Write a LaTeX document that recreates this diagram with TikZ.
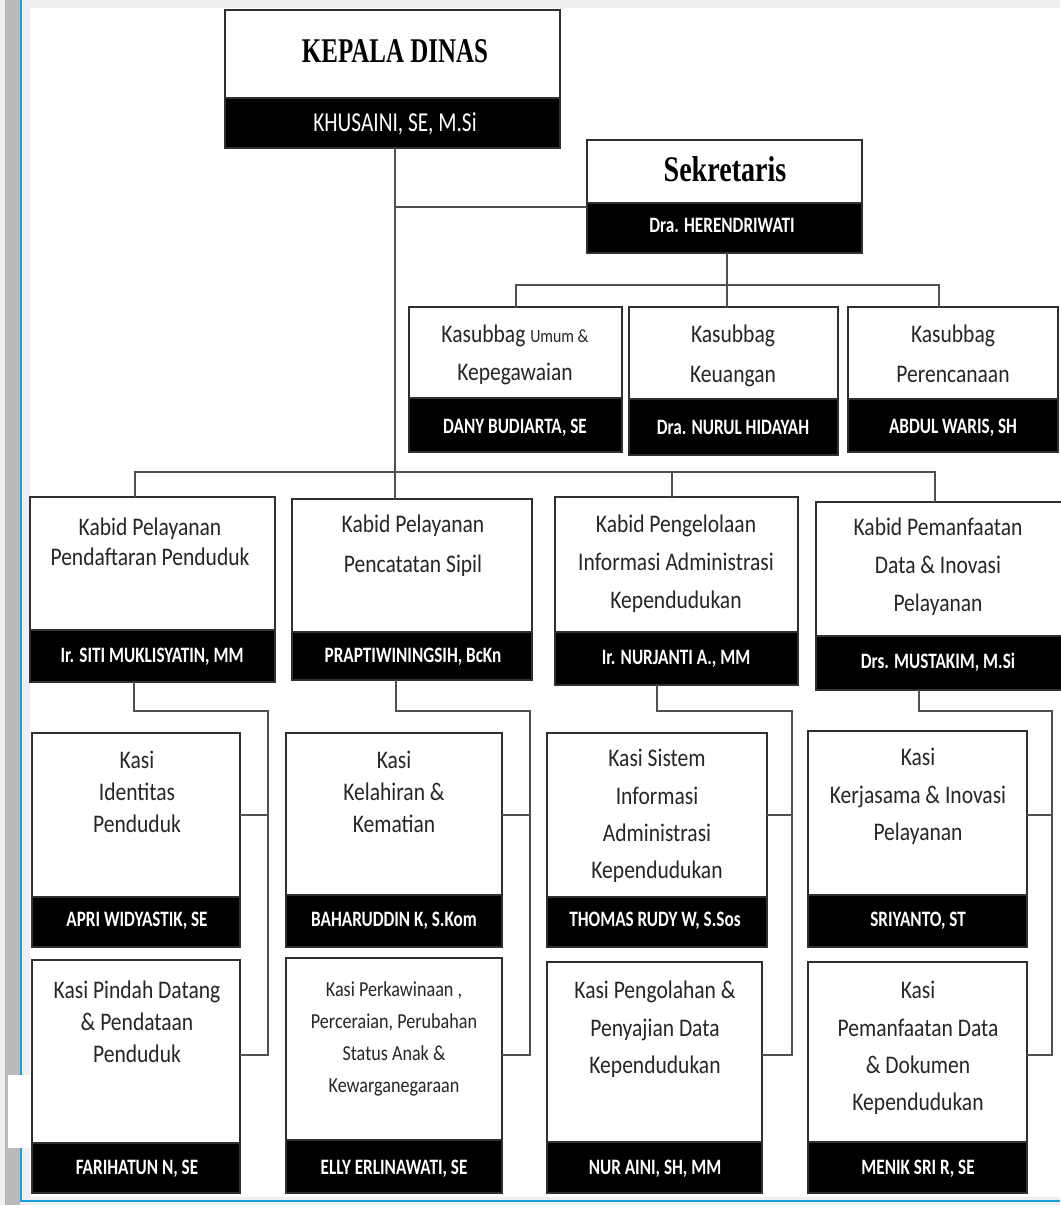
\documentclass[tikz,border=0pt]{standalone}
\usepackage{fontspec}
\setmainfont{Carlito}
\newfontfamily\bodyf[FakeStretch=0.85]{Carlito}
\newfontfamily\namef[FakeStretch=0.78]{Carlito}
\newfontfamily\headf[FakeStretch=0.72]{Liberation Serif}
\newfontfamily\sekf[FakeStretch=0.78]{Liberation Serif}
\newcommand\tsz[2]{\fontsize{#1}{#2}\selectfont}
\definecolor{bgc}{HTML}{EFEFEF}
\definecolor{barc}{HTML}{BABABA}
\definecolor{frameblue}{HTML}{1BA1E2}
\definecolor{lnc}{HTML}{505050}
\definecolor{bord}{HTML}{303030}
\tikzset{
  wbox/.style={draw=bord, line width=1.5pt, fill=white, inner sep=0pt, outer sep=0pt},
  bbox/.style={draw=bord, line width=1.5pt, fill=black, inner sep=0pt, outer sep=0pt},
  ttxt/.style={align=center, inner sep=0pt, anchor=north, text=black!85},
  ntxt/.style={inner sep=0pt, anchor=base, text=white, font={\namef\bfseries\tsz{16.5}{20}}},
  conn/.style={draw=lnc, line width=1.5pt},
}
\newcommand\orgbox[6]{%
  \node[wbox, minimum width={(#3-#2)*0.75pt}, minimum height={(#5-#4)*0.75pt}]
    (#1) at ({(#2+#3)/2},{(#4+#5)/2}) {};
  \node[bbox, minimum width={(#3-#2)*0.75pt}, minimum height={(#6-#5)*0.75pt}]
    (#1n) at ({(#2+#3)/2},{(#5+#6)/2}) {};}
\begin{document}
\begin{tikzpicture}[x=0.75pt,y=-0.75pt]
\useasboundingbox (0,0) rectangle (1060,1205);
% frame of the screenshot
\fill[bgc] (0,0) rectangle (1060,1205);
\fill[white] (30,8) rectangle (1060,1197);
\fill[barc] (5,0) rectangle (20,1205);
\draw[frameblue, line width=2pt] (21,0) -- (21,1201) -- (1060,1201);
\fill[white] (8,1075) rectangle (30.5,1148);

% boxes
\orgbox{kd}{225}{560}{10}{98}{148}
\orgbox{sk}{587}{862}{140}{203}{253}
\orgbox{s1}{409}{622}{307}{398}{452}
\orgbox{s2}{629}{838}{307}{399}{455}
\orgbox{s3}{848}{1058}{307}{399}{452}
\orgbox{b1}{30}{275}{497}{630}{682}
\orgbox{b2}{292}{532}{499}{632}{680}
\orgbox{b3}{555}{798}{497}{632}{685}
\orgbox{b4}{816}{1062}{502}{636}{690}
\orgbox{k1}{32}{240}{733}{897}{947}
\orgbox{k2}{32}{240}{960}{1143}{1193}
\orgbox{k3}{286}{502}{733}{895}{947}
\orgbox{k4}{286}{502}{958}{1140}{1193}
\orgbox{k5}{547}{767}{733}{897}{947}
\orgbox{k6}{547}{762}{962}{1142}{1193}
\orgbox{k7}{808}{1027}{731}{895}{947}
\orgbox{k8}{808}{1027}{962}{1142}{1193}

% titles
\node[inner sep=0pt, anchor=base, font={\headf\bfseries\tsz{26}{30}}] (kdt) at (395,63) {KEPALA DINAS};
\node[inner sep=0pt, anchor=base, font={\sekf\bfseries\tsz{27}{30}}] (skt) at (725,182) {Sekretaris};
\node[ttxt, font={\bodyf\tsz{19}{28.5}}] (s1t) at (515,325) {Kasubbag {\tsz{14}{16}Umum \&}\\Kepegawaian};
\node[ttxt, font={\bodyf\tsz{19}{30}}] (s2t) at (733,325) {Kasubbag\\Keuangan};
\node[ttxt, font={\bodyf\tsz{19}{30}}] (s3t) at (953,325) {Kasubbag\\Perencanaan};
\node[ttxt, font={\bodyf\tsz{19}{22.5}}] (b1t) at (150,518) {Kabid Pelayanan\\Pendaftaran Penduduk};
\node[ttxt, font={\bodyf\tsz{19}{30}}] (b2t) at (413,515) {Kabid Pelayanan\\Pencatatan Sipil};
\node[ttxt, font={\bodyf\tsz{19}{28.5}}] (b3t) at (676,515) {Kabid Pengelolaan\\Informasi Administrasi\\Kependudukan};
\node[ttxt, font={\bodyf\tsz{19}{28.5}}] (b4t) at (938,518) {Kabid Pemanfaatan\\Data \& Inovasi\\Pelayanan};
\node[ttxt, font={\bodyf\tsz{19}{24}}] (k1t) at (137,751) {Kasi\\Identitas\\Penduduk};
\node[ttxt, font={\bodyf\tsz{19}{24}}] (k2t) at (137,981) {Kasi Pindah Datang\\\& Pendataan\\Penduduk};
\node[ttxt, font={\bodyf\tsz{19}{24}}] (k3t) at (394,751) {Kasi\\Kelahiran \&\\Kematian};
\node[ttxt, font={\bodyf\tsz{16}{24}}] (k4t) at (394,981) {Kasi Perkawinaan ,\\Perceraian, Perubahan\\Status Anak \&\\Kewarganegaraan};
\node[ttxt, font={\bodyf\tsz{19}{28}}] (k5t) at (657,749) {Kasi Sistem\\Informasi\\Administrasi\\Kependudukan};
\node[ttxt, font={\bodyf\tsz{19}{28}}] (k6t) at (655,981) {Kasi Pengolahan \&\\Penyajian Data\\Kependudukan};
\node[ttxt, font={\bodyf\tsz{19}{28}}] (k7t) at (918,748) {Kasi\\Kerjasama \& Inovasi\\Pelayanan};
\node[ttxt, font={\bodyf\tsz{19}{28}}] (k8t) at (918,981) {Kasi\\Pemanfaatan Data\\\& Dokumen\\Kependudukan};

% names
\node[ntxt, font={\namef\tsz{20.5}{22}}] (kdl) at (395,132) {KHUSAINI, SE, M.Si};
\node[ntxt, font={\namef\bfseries\tsz{16.5}{18}}] (skl) at (722,233) {Dra. HERENDRIWATI};
\node[ntxt] (s1l) at (515,433) {DANY BUDIARTA, SE};
\node[ntxt] (s2l) at (733,434) {Dra. NURUL HIDAYAH};
\node[ntxt] (s3l) at (953,433) {ABDUL WARIS, SH};
\node[ntxt] (b1l) at (152,662) {Ir. SITI MUKLISYATIN, MM};
\node[ntxt] (b2l) at (413,662) {PRAPTIWININGSIH, BcKn};
\node[ntxt] (b3l) at (676,664) {Ir. NURJANTI A., MM};
\node[ntxt] (b4l) at (938,668) {Drs. MUSTAKIM, M.Si};
\node[ntxt] (k1l) at (137,926) {APRI WIDYASTIK, SE};
\node[ntxt] (k2l) at (137,1174) {FARIHATUN N, SE};
\node[ntxt] (k3l) at (394,926) {BAHARUDDIN K, S.Kom};
\node[ntxt] (k4l) at (394,1174) {ELLY ERLINAWATI, SE};
\node[ntxt] (k5l) at (655,926) {THOMAS RUDY W, S.Sos};
\node[ntxt] (k6l) at (655,1174) {NUR AINI, SH, MM};
\node[ntxt] (k7l) at (918,926) {SRIYANTO, ST};
\node[ntxt] (k8l) at (918,1174) {MENIK SRI R, SE};

% connector junctions
\coordinate (j0) at (395,207);
\coordinate (j1) at (727,285);
\coordinate (sL) at (516,285);
\coordinate (sR) at (939,285);
\coordinate (bL) at (135,472);
\coordinate (bM) at (672,472);
\coordinate (bR) at (935,472);
\coordinate (c1a) at (134,711); \coordinate (c1b) at (268,711);
\coordinate (c1c) at (268,815); \coordinate (c1d) at (268,1055);
\coordinate (c2a) at (396,711); \coordinate (c2b) at (530,711);
\coordinate (c2c) at (530,815); \coordinate (c2d) at (530,1055);
\coordinate (c3a) at (657,711); \coordinate (c3b) at (792,711);
\coordinate (c3c) at (792,815); \coordinate (c3d) at (792,1055);
\coordinate (c4a) at (919,711); \coordinate (c4b) at (1052,711);
\coordinate (c4c) at (1052,815); \coordinate (c4d) at (1052,1055);

% connectors
\draw[conn] (kdn.south -| j0) -- (b2.north -| j0);
\draw[conn] (j0) -- (skn.west |- j0);
\draw[conn] (skn.south -| j1) -- (s2.north -| j1);
\draw[conn] (s1.north -| sL) -- (sL) -- (sR) -- (s3.north -| sR);
\draw[conn] (b1.north -| bL) -- (bL) -- (bR) -- (b4.north -| bR);
\draw[conn] (bM) -- (b3.north -| bM);
\draw[conn] (b1n.south -| c1a) -- (c1a) -- (c1b) -- (c1d) -- (k2.east |- c1d);
\draw[conn] (k1.east |- c1c) -- (c1c);
\draw[conn] (b2n.south -| c2a) -- (c2a) -- (c2b) -- (c2d) -- (k4.east |- c2d);
\draw[conn] (k3.east |- c2c) -- (c2c);
\draw[conn] (b3n.south -| c3a) -- (c3a) -- (c3b) -- (c3d) -- (k6.east |- c3d);
\draw[conn] (k5.east |- c3c) -- (c3c);
\draw[conn] (b4n.south -| c4a) -- (c4a) -- (c4b) -- (c4d) -- (k8.east |- c4d);
\draw[conn] (k7.east |- c4c) -- (c4c);
\end{tikzpicture}
\end{document}
